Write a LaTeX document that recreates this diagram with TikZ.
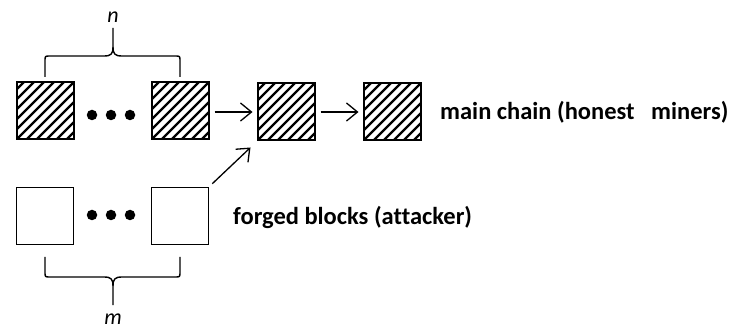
\documentclass[tikz,border=0pt]{standalone}
\usepackage{fontspec}
\setmainfont[Ligatures=NoCommon]{Carlito}
\usetikzlibrary{arrows.meta}
\begin{document}
\begin{tikzpicture}[x=1pt,y=-1pt,
  hatched/.style={draw=black,line width=2pt,minimum size=57pt,inner sep=0pt,
    path picture={\foreach \k in {-7,...,7}{
      \draw[line width=2.2pt] ([xshift=\k*10pt]path picture bounding box.south west) -- ++(80,-80);}}},
  plainbox/.style={draw=black,line width=1.5pt,minimum size=57pt,inner sep=0pt,fill=white},
  dot/.style={circle,fill=black,minimum size=10.5pt,inner sep=0pt},
  link/.style={line width=1.3pt,-{Straight Barb[length=11pt,width=18pt,line width=1.3pt]}},
  brace/.style={line width=1.4pt,line join=round},
  lbl/.style={font=\fontsize{24.5}{28}\selectfont\bfseries,anchor=west,inner sep=0pt},
  var/.style={font=\fontsize{22}{26}\selectfont\itshape,inner sep=0pt}]
\useasboundingbox (0,0) rectangle (731,331);

% main chain
\node[hatched] (h1) at (45,111) {};
\node[hatched] (h2) at (180,111) {};
\node[hatched] (h3) at (286,112) {};
\node[hatched] (h4) at (392,112) {};
\node[dot] (hd1) at (92,115) {};
\node[dot] (hd2) at (111,115) {};
\node[dot] (hd3) at (130,115) {};

% forged blocks
\node[plainbox] (f1) at (45,216) {};
\node[plainbox] (f2) at (180,216) {};
\node[dot] (fd1) at (92,215) {};
\node[dot] (fd2) at (111,215) {};
\node[dot] (fd3) at (130,215) {};

% links
\draw[link] (h2.east) ++(5,1) -- ([shift={(-4,0)}]h3.west);
\draw[link] (h3.east) ++(5,0) -- ([shift={(-4,0)}]h4.west);
\draw[link] ([shift={(3,-3)}]f2.north east) -- ([shift={(-6,6)}]h3.south west);

% labels
\node[lbl] (tmain) at (440,112) {main chain (honest\ \ \ miners)};
\node[lbl] (tforged) at (233,217) {forged blocks (attacker)};

% brace over the main chain
\coordinate (ntip) at (113,28);
\draw[brace] (45,77) -- (45,61) .. controls (45,56) .. (50,56) -- (104,56)
  .. controls (111,56) and (113,54) .. (113,47) -- (ntip);
\draw[brace] (180,77) -- (180,61) .. controls (180,56) .. (175,56) -- (122,56)
  .. controls (115,56) and (113,54) .. (113,47);
\node[var] (n) at (113,17) {n};

% brace under the forged blocks
\coordinate (mtip) at (113,305);
\draw[brace] (45,257) -- (45,272) .. controls (45,277) .. (50,277) -- (104,277)
  .. controls (111,277) and (113,279) .. (113,286) -- (mtip);
\draw[brace] (180,257) -- (180,272) .. controls (180,277) .. (175,277) -- (122,277)
  .. controls (115,277) and (113,279) .. (113,286);
\node[var] (m) at (113,319) {m};
\end{tikzpicture}
\end{document}
